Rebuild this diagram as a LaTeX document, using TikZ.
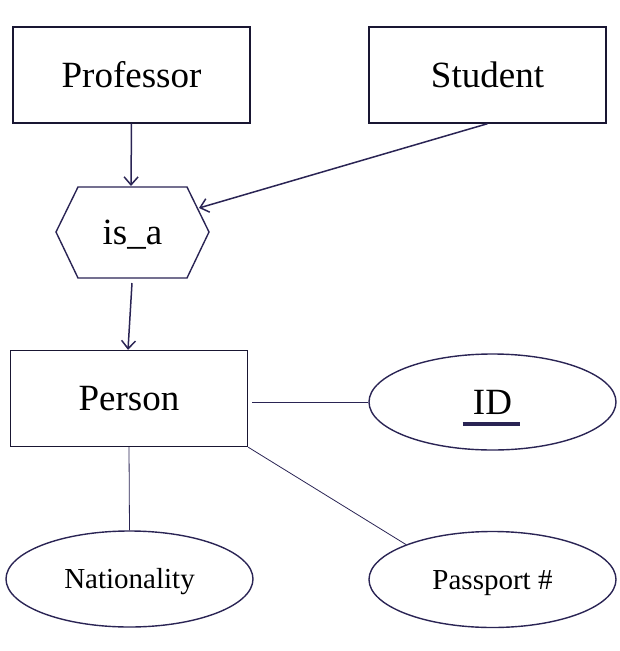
\documentclass[tikz,border=0pt]{standalone}
\usepackage{fontspec}
\setmainfont{Liberation Serif}
\usetikzlibrary{shapes.geometric,arrows.meta}
\definecolor{navy}{RGB}{42,36,84}
\tikzset{
  bigtxt/.style={font=\fontsize{37}{40}\selectfont, text height=24.5pt, text depth=0pt},
  smalltxt/.style={font=\fontsize{29}{32}\selectfont, text height=19pt, text depth=0pt},
  entity/.style={draw=navy!60!black, line width=1.4pt, minimum width=237pt, minimum height=96pt, inner sep=0pt, bigtxt},
  attr/.style={ellipse, draw=navy, line width=1.4pt, minimum width=247pt, minimum height=96pt, inner sep=0pt},
  arr/.style={draw=navy, line width=1.5pt, -{Straight Barb[length=8pt,width=14pt,line width=1.5pt]}},
  link/.style={draw=navy, line width=0.8pt},
  hexline/.style={draw=navy, line width=1.4pt, line join=miter}
}
\begin{document}
\begin{tikzpicture}[x=1pt,y=-1pt]
\useasboundingbox (0,0) rectangle (619,651);
\node[entity] (prof) at (131.5,75) {Professor};
\node[entity] (stud) at (487.5,75) {Student};
\node[entity] (pers) at (129,398.5) {Person};
\node[bigtxt, inner sep=0pt] (isa) at (132.5,232) {is\_a};
\draw[hexline] (56,232) coordinate (hw) -- (78,187) coordinate (hnw) -- (187,187) coordinate (hne)
  -- (209,232) coordinate (he) -- (187,278) coordinate (hse) -- (78,278) coordinate (hsw) -- cycle;
\coordinate (isatop) at (131,186);
\coordinate (isaright) at (199,208);
\coordinate (isabot) at (132,283);
\node[attr, bigtxt] (id) at (492.5,402) {ID};
\node[attr, smalltxt] (nat) at (129.5,579) {Nationality};
\node[attr, smalltxt] (pass) at (492.5,579.5) {Passport \#};
\draw[navy, line width=3.3pt] ([xshift=-30pt,yshift=-22pt]id.center) -- ([xshift=27.5pt,yshift=-22pt]id.center);
\draw[arr] (prof.south) -- (isatop);
\draw[arr] (stud.south) -- (isaright);
\draw[arr] (isabot) -- ([xshift=-1pt]pers.north);
\draw[link] ([xshift=4pt]pers.east |- id.west) -- (id.west);
\draw[link] (pers.south) -- (nat.north);
\draw[link] (pers.south east) -- (pass.158);
\end{tikzpicture}
\end{document}
